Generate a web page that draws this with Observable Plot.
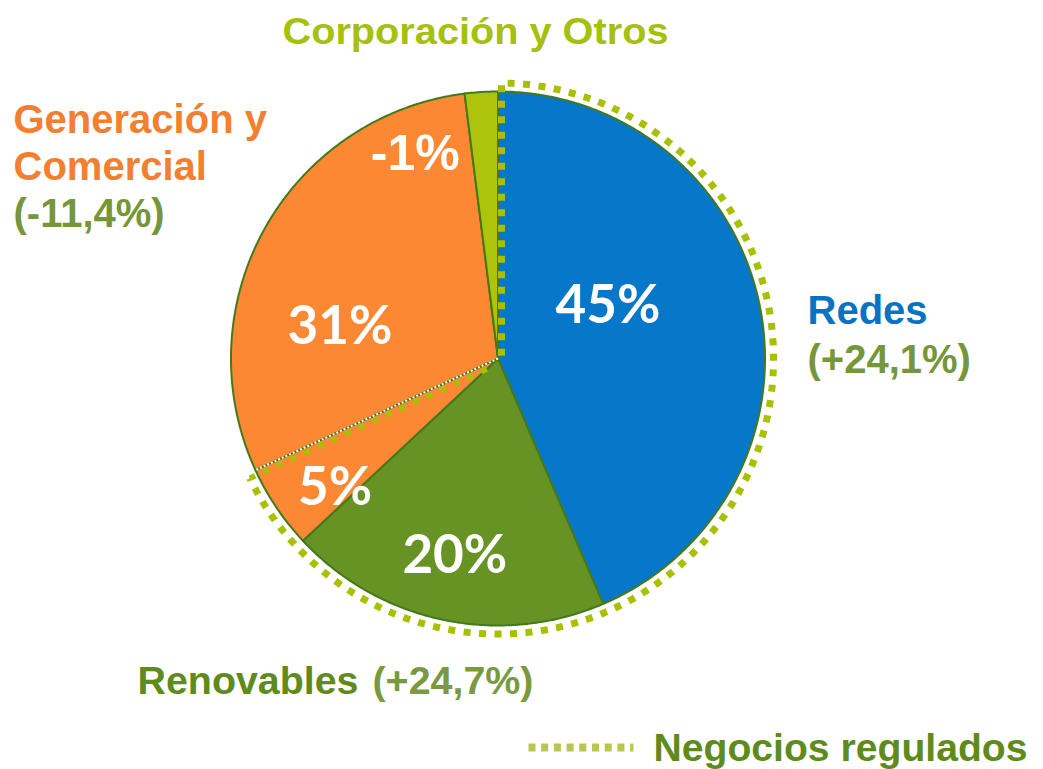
<!DOCTYPE html>
<html><head><meta charset="utf-8">
<script src="https://cdn.jsdelivr.net/npm/d3@7"></script>
<script src="https://cdn.jsdelivr.net/npm/@observablehq/plot@0.6"></script>
<style>html,body{margin:0;padding:0;background:#fff}#chart svg{display:block}</style>
</head><body><div id="chart"></div>
<script>
// ---- data ----
const segments = ["Redes", "Renovables", "Generación regulada", "Generación y Comercial", "Corporación y Otros"];
const shares = [43.6, 19.5, 5.1, 29.9, 2.0];           // slice sizes (angles)
const shareLabels = ["45%", "20%", "5%", "31%", "-1%"]; // printed labels
const regulated = [true, true, true, false, false];
const nameLabels = ["Corporación y Otros", "Generación y", "Comercial", "Redes", "Renovables", "Negocios regulados"];
const growthLabels = ["(-11,4%)", "(+24,1%)", "(+24,7%)"];

// ---- layout / style ----
const W = 1043, H = 769, CX = 497.5, CY = 358, R = 267;
const colors = ["#0677c9", "#669323", "#fd8833", "#fd8833", "#adc30c"];
const edge = "#44791a";
const dotted = "#a8c000";
const labelPos = [{a: 64.3, r: 0.457}, {a: 192.3, r: 0.759}, {a: 231.6, r: 0.779}, {a: 281.1, r: 0.603}, {a: 338, r: 0.828}];
const font = "'Liberation Sans', Arial, sans-serif";

const rad = Math.PI / 180;
const pt = (deg, r) => ({x: r * Math.sin(deg * rad), y: -r * Math.cos(deg * rad)});
const total = d3.sum(shares);
const ends = Array.from(d3.cumsum(shares), v => v / total * 360);
const starts = [0, ...ends.slice(0, -1)];

function slicePoly(i) {
  const a0 = starts[i], a1 = ends[i];
  const n = Math.max(2, Math.ceil((a1 - a0) / 0.5));
  const arc = d3.range(n + 1).map(k => pt(a0 + (a1 - a0) * k / n, 1));
  return [{x: 0, y: 0}, ...arc, {x: 0, y: 0}];
}

// regulated outline
const regEnd = ends[regulated.lastIndexOf(true)];
const outerR = 1.032;
const off = 3.5 / R;
const vertical = d3.range(0, 61).map(k => ({x: off, y: -(0.01 + (outerR - 0.01) * k / 60)}));
const a0 = Math.asin(off / outerR) / rad;
const a1 = regEnd - 1.0;
const outerArc = d3.range(0, 401).map(k => pt(a0 + (a1 - a0) * k / 400, outerR));
const nrm = {x: -Math.cos(regEnd * rad) * 5 / R, y: -Math.sin(regEnd * rad) * 5 / R};
const radial = d3.range(0, 41).map(k => {
  const p = pt(regEnd, outerR - (outerR - 0.02) * k / 40);
  return {x: p.x + nrm.x, y: p.y + nrm.y};
});
const boundary = [pt(regEnd, 0), pt(regEnd, 1)];

const ux = px => (px - CX) / R, uy = py => (py - CY) / R;
const legendLine = [{x: ux(528), y: uy(747)}, {x: ux(633), y: uy(747)}];

const pctData = shareLabels.map((t, i) => ({t, ...pt(labelPos[i].a, labelPos[i].r)}));

const side = (text, dx, dy, fill, size = 40) => Plot.text([text], {
  frameAnchor: "top-left", dx, dy, text: d => d, textAnchor: "start", lineAnchor: "bottom",
  fill, fontSize: size, fontWeight: 700, fontFamily: font
});

const plot = Plot.plot({
  width: W, height: H, margin: 0,
  x: {domain: [ux(0), ux(W)], range: [0, W], axis: null},
  y: {domain: [uy(0), uy(H)], range: [0, H], axis: null},
  style: {background: "white", overflow: "visible"},
  marks: [
    ...segments.map((s, i) => Plot.line(slicePoly(i), {x: "x", y: "y", fill: colors[i], stroke: edge, strokeWidth: 2, strokeLinejoin: "round"})),
    Plot.line(boundary, {x: "x", y: "y", stroke: "white", strokeWidth: 2, strokeDasharray: "2,2", strokeLinecap: "butt"}),
    Plot.line([...vertical, ...outerArc], {x: "x", y: "y", stroke: dotted, strokeWidth: 7, strokeDasharray: "7,8.5", strokeLinecap: "butt", strokeLinejoin: "miter"}),
    Plot.line(radial, {x: "x", y: "y", stroke: dotted, strokeWidth: 5.5, strokeDasharray: "6,9", strokeLinecap: "butt"}),
    Plot.text(pctData.slice(0, 4), {x: "x", y: "y", text: "t", fill: "white", fontSize: 53, fontWeight: 700, fontFamily: "Lato, 'Open Sans', sans-serif"}),
    Plot.text(pctData.slice(4), {x: "x", y: "y", text: "t", fill: "white", fontSize: 50, fontWeight: 700, fontFamily: font}),
    side(nameLabels[0], 282, 43, "#a6c00e", 36),
    side(nameLabels[1], 13, 132, "#f47f30"),
    side(nameLabels[2], 13, 179, "#f47f30"),
    side(growthLabels[0], 13, 226, "#76963a"),
    side(nameLabels[3], 807, 323, "#0a72c3"),
    side(growthLabels[1], 807, 372, "#76963a"),
    side(nameLabels[4], 137, 693, "#5e8b1c", 38),
    side(growthLabels[2], 372, 693, "#7a9a40", 38),
    Plot.line(legendLine, {x: "x", y: "y", stroke: "#b9c84c", strokeWidth: 8, strokeDasharray: "7,5.7", strokeLinecap: "butt"}),
    side(nameLabels[5], 653, 760, "#5e8b1c", 39)
  ]
});

const fit = {"Corporación y Otros": 386, "Renovables": 221, "(+24,7%)": 161, "Negocios regulados": 374};
d3.select(plot).selectAll("text").each(function () {
  const w = fit[this.textContent];
  if (w) { this.setAttribute("textLength", w); this.setAttribute("lengthAdjust", "spacingAndGlyphs"); }
});
document.getElementById("chart").append(plot);
</script>
</body></html>
